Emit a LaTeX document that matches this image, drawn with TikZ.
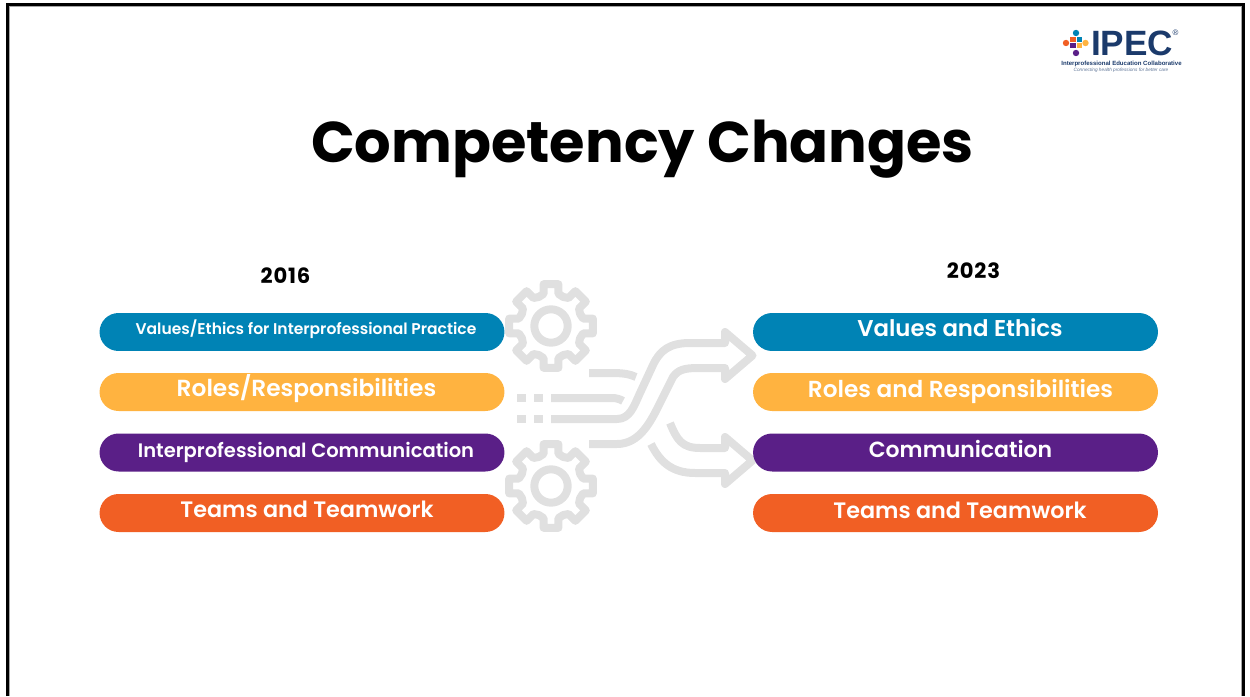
\documentclass[tikz,border=0pt]{standalone}
\usepackage{fontspec}
\setmainfont{Poppins}[BoldFont={Poppins SemiBold}]
\newfontfamily\titlefont{Poppins}[UprightFont={Poppins Bold}]
\newfontfamily\yearfont{Poppins}[UprightFont={Poppins Bold}, LetterSpace=4]
\newfontfamily\logofont{Liberation Sans}
\definecolor{ipecblue}{HTML}{0083B5}
\definecolor{ipecyellow}{HTML}{FFB340}
\definecolor{ipecpurple}{HTML}{5A1F87}
\definecolor{ipecorange}{HTML}{F15F24}
\definecolor{ipecnavy}{HTML}{1B3A6B}
\definecolor{icongray}{HTML}{E0E0E0}
\newcommand{\pt}[1]{\fontsize{#1}{#1}\selectfont}
\begin{document}
\begin{tikzpicture}
    [x=0.02cm, y=-0.02cm,
     pill/.style={rounded corners=0.38cm, minimum width=8.1cm, minimum height=0.76cm, inner sep=0pt},
     pilltext/.style={anchor=base, inner sep=0pt, text=white, font=\bfseries\pt{12.7}},
     year/.style={anchor=base, font=\yearfont\pt{12}},
     icon/.style={draw=icongray, line width=0.16cm, line join=round},
     tick/.style={fill=icongray}]
    \useasboundingbox (0,0) rectangle (1250,696);
    % frame
    \draw[gray!70, line width=0.02cm] (9.5,696) -- (9.5,6.5) -- (1241.5,6.5) -- (1241.5,696);
    \draw[line width=0.06cm] (7.5,696) -- (7.5,4.5) -- (1243.7,4.5) -- (1243.7,696);
    % title and years
    \node[anchor=base] (title) at (642.5,162) {\titlefont\pt{32.7}Competency Changes};
    \node[year] (left year) at (285.5,283) {2016};
    \node[year] (right year) at (973.5,278) {2023};
    % gears
    \foreach \gx/\gy in {551/326, 551/486} {
        \draw[icon] (\gx,\gy) circle (16.7);
        \draw[icon] ([shift={(\gx,\gy)}]-10:42.5)
            \foreach \a in {0,45,...,315} {
                -- ([shift={(\gx,\gy)}]\a-10:42.5) -- ([shift={(\gx,\gy)}]\a+10:42.5)
                -- ([shift={(\gx,\gy)}]\a+13:33) -- ([shift={(\gx,\gy)}]\a+22.5:31.5) -- ([shift={(\gx,\gy)}]\a+32:33)
            } -- cycle;
    }
    % streams
    \draw[icon] (551,419) -- (617,419) .. controls (630,419) and (634,406) .. (640,393) -- (653,365)
        .. controls (660,350) and (670,343) .. (690,343) -- (725,343) -- (725,332) -- (752.5,355.5) -- (725,379) -- (725,368)
        -- (698,368) .. controls (684,368) and (678,370) .. (673,377) -- (660,403) .. controls (651,421) and (640,444) .. (617,444) -- (589,444);
    \draw[icon] (589,373) -- (612,373) .. controls (622,373) and (630,374) .. (636,377);
    \draw[icon] (551,398) -- (612,398) .. controls (616,398) and (620,399) .. (623,401);
    \draw[icon] (670,423) .. controls (677,440) and (682,448) .. (700,448) -- (725,448) -- (725,437) -- (752.5,460.5) -- (725,484) -- (725,473)
        -- (695,473) .. controls (672,473) and (660,462) .. (651,444);
    \foreach \tx in {517,534} \foreach \ty in {394,415}
        \fill[tick] (\tx,\ty) rectangle ++(9,8);
    % left column
    \node[pill, fill=ipecblue] (left values) at (302,332) {};
    \node[pill, fill=ipecyellow] (left roles) at (302,392) {};
    \node[pill, fill=ipecpurple] (left comm) at (302,452.5) {};
    \node[pill, fill=ipecorange] (left teams) at (302,513) {};
    \node[pilltext] (left values text) at (306,334) {\pt{8.85}Values/Ethics for Interprofessional Practice};
    \node[pilltext] (left roles text) at (306.5,396) {\pt{13.25}Roles/Responsibilities};
    \node[pilltext] (left comm text) at (306,457) {\pt{11.1}Interprofessional Communication};
    \node[pilltext] (left teams text) at (307,517) {Teams and Teamwork};
    % right column
    \node[pill, fill=ipecblue] (right values) at (955.5,332) {};
    \node[pill, fill=ipecyellow] (right roles) at (955.5,392) {};
    \node[pill, fill=ipecpurple] (right comm) at (955.5,452.5) {};
    \node[pill, fill=ipecorange] (right teams) at (955.5,513) {};
    \node[pilltext] (right values text) at (960,336) {\pt{13}Values and Ethics};
    \node[pilltext] (right roles text) at (960.5,397) {\pt{13.2}Roles and Responsibilities};
    \node[pilltext] (right comm text) at (960.5,457) {\pt{12.5}Communication};
    \node[pilltext] (right teams text) at (960,518) {Teams and Teamwork};
    % logo
    \fill[ipecblue] (1076,33) circle (3.2);
    \fill[ipecorange] (1066,43) circle (3.2);
    \fill[ipecyellow] (1085.5,43) circle (3.2);
    \fill[ipecpurple] (1076,53) circle (3.2);
    \fill[ipecorange] (1070,37.5) rectangle (1075.5,42.5);
    \fill[ipecblue] (1076.5,37.5) rectangle (1082,42.5);
    \fill[ipecpurple] (1070,43.5) rectangle (1075.5,48.5);
    \fill[ipecyellow] (1076.5,43.5) rectangle (1082,48.5);
    \node[text=ipecnavy, inner sep=0pt] (logo name) at (1132,43) {\logofont\bfseries\pt{20}IPEC};
    \node[text=ipecnavy, inner sep=0pt] (logo mark) at (1175.5,33) {\logofont\pt{4.5}®};
    \node[text=ipecnavy, inner sep=0pt] (logo line) at (1121.5,64) {\logofont\bfseries\pt{3.45}Interprofessional Education Collaborative};
    \node[text=ipecnavy!70, inner sep=0pt] (logo tag) at (1121,70.5) {\logofont\itshape\pt{2.7}Connecting health professions for better care};
\end{tikzpicture}
\end{document}
